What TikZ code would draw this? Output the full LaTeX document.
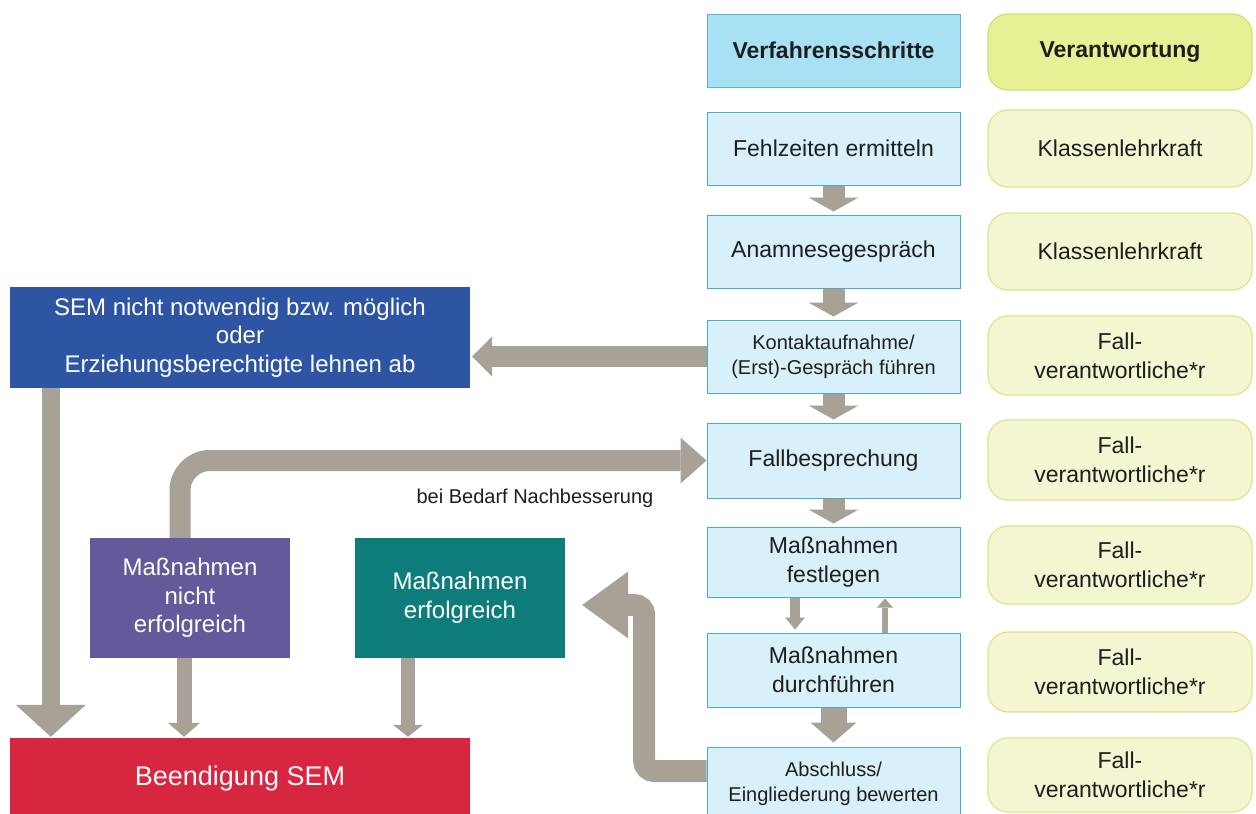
\documentclass[tikz,border=0pt]{standalone}
\usepackage{fontspec}
\setmainfont{Liberation Sans}
\usetikzlibrary{arrows.meta,calc}
\definecolor{arr}{RGB}{167,161,150}
\definecolor{hblue}{RGB}{168,224,244}
\definecolor{hblueb}{RGB}{92,180,214}
\definecolor{sblue}{RGB}{216,240,250}
\definecolor{sblueb}{RGB}{75,172,198}
\definecolor{hyel}{RGB}{232,240,150}
\definecolor{hyelb}{RGB}{212,222,110}
\definecolor{syel}{RGB}{243,246,208}
\definecolor{syelb}{RGB}{220,228,140}
\definecolor{semblue}{RGB}{46,84,164}
\definecolor{purp}{RGB}{100,89,155}
\definecolor{tealc}{RGB}{14,124,123}
\definecolor{redc}{RGB}{214,38,64}
\definecolor{txt}{RGB}{30,30,30}
\newcommand\fmain{\fontsize{23}{29}\selectfont}
\newcommand\fsmall{\fontsize{20}{25}\selectfont}
\newcommand\fleft{\fontsize{24}{28.5}\selectfont}
\newcommand\fend{\fontsize{27}{32}\selectfont}
\newcommand\flabel{\fontsize{20}{24}\selectfont}
\tikzset{
  colbox/.style={draw=sblueb, fill=sblue, line width=1pt, minimum width=253pt, inner sep=0pt, align=center, text=txt, font=\fmain},
  colhead/.style={colbox, draw=hblueb, fill=hblue, font=\fmain\bfseries},
  respbox/.style={draw=syelb, fill=syel, line width=1.2pt, rounded corners=20pt, minimum width=264pt, inner sep=0pt, align=center, text=txt, font=\fmain},
  resphead/.style={respbox, draw=hyelb, fill=hyel, font=\fmain\bfseries},
  leftbox/.style={inner sep=0pt, align=center, text=white, font=\fleft},
  flow/.style={draw=arr, line width=22pt, -{Triangle[width=50pt,length=14pt,line width=0pt]}, shorten >=3pt},
}
\begin{document}
\begin{tikzpicture}[x=1pt,y=-1pt]
\useasboundingbox (0,0) rectangle (1256,814);
\fill[white] (0,0) rectangle (1256,814);
% process column
\node[colhead, minimum height=73pt] (head) at (833.5,50.5) {Verfahrensschritte};
\node[colbox, minimum height=73pt] (fehl) at (833.5,148.5) {Fehlzeiten ermitteln};
\node[colbox, minimum height=73pt] (anam) at (833.5,251.5) {Anamnesegespräch};
\node[colbox, minimum height=73pt, font=\fsmall] (kont) at (833.5,356.5) {Kontaktaufnahme/\\(Erst)-Gespräch führen};
\node[colbox, minimum height=75pt] (fall) at (833.5,460.5) {Fallbesprechung};
\node[colbox, minimum height=70pt] (fest) at (833.5,562) {Maßnahmen\\festlegen};
\node[colbox, minimum height=74pt] (durch) at (833.5,670) {Maßnahmen\\durchführen};
\node[colbox, minimum height=73pt, font=\fsmall] (absch) at (833.5,783.5) {Abschluss/\\Eingliederung bewerten};
% responsibility column
\node[resphead, minimum height=76pt] (rh) at (1120,52) {Verantwortung};
\node[respbox, minimum height=77pt] (r1) at (1120,148.5) {Klassenlehrkraft};
\node[respbox, minimum height=77pt] (r2) at (1120,251.5) {Klassenlehrkraft};
\node[respbox, minimum height=79pt] (r3) at (1120,355.5) {Fall-\\verantwortliche*r};
\node[respbox, minimum height=80pt] (r4) at (1120,460) {Fall-\\verantwortliche*r};
\node[respbox, minimum height=78pt] (r5) at (1120,565) {Fall-\\verantwortliche*r};
\node[respbox, minimum height=80pt] (r6) at (1120,672) {Fall-\\verantwortliche*r};
\node[respbox, minimum height=74pt] (r7) at (1120,775) {Fall-\\verantwortliche*r};
% left boxes
\node[leftbox, fill=semblue, minimum width=460pt, minimum height=101pt] (sem) at (240,337.5) {SEM nicht notwendig bzw. möglich\\oder\\Erziehungsberechtigte lehnen ab};
\node[leftbox, fill=redc, minimum width=460pt, minimum height=82pt, font=\fend] (end) at (240,779) {Beendigung SEM};
\node[leftbox, fill=purp, minimum width=200pt, minimum height=120pt] (nonerf) at (190,598) {Maßnahmen\\nicht\\erfolgreich};
\node[leftbox, fill=tealc, minimum width=210pt, minimum height=120pt] (erf) at (460,598) {Maßnahmen\\erfolgreich};
\node[font=\flabel, text=txt, inner sep=0pt] (lbl) at (535,498) {bei Bedarf Nachbesserung};
% column arrows
\draw[flow] (fehl) -- (anam);
\draw[flow] (anam) -- (kont);
\draw[flow] (kont) -- (fall);
\draw[flow] (fall) -- (fest);
\draw[draw=arr, line width=10pt, -{Triangle[width=20pt,length=12pt,line width=0pt]}, shorten >=3pt]
  ([xshift=-38.5pt]fest.south) -- ([xshift=-38.5pt]durch.north);
\draw[draw=arr, line width=6pt, -{Triangle[width=16pt,length=9pt,line width=0pt]}, shorten >=1pt]
  ([xshift=51.5pt]durch.north) -- ([xshift=51.5pt]fest.south);
\draw[draw=arr, line width=26pt, -{Triangle[width=46pt,length=20pt,line width=0pt]}, shorten >=4pt]
  (durch) -- (absch);
% to SEM box
\draw[draw=arr, line width=21pt, -{Triangle[width=40pt,length=20pt,line width=0pt]}, shorten >=2pt]
  (kont.west) -- (kont.west -| sem.east);
\draw[draw=arr, line width=18pt, -{Triangle[width=70pt,length=32pt,line width=0pt]}, shorten >=1pt]
  ([xshift=41pt]sem.south west) -- ([xshift=41pt]end.north west);
% not successful -> Fallbesprechung
\draw[draw=arr, line width=21pt, rounded corners=30pt, -{Triangle[width=46pt,length=26pt,line width=0pt]}]
  ([xshift=-10pt]nonerf.north) |- (fall.west);
\coordinate (p1) at ([xshift=-6pt]nonerf.south);
\draw[draw=arr, line width=15pt, -{Triangle[width=32pt,length=14pt,line width=0pt]}, shorten >=1pt]
  (p1) -- (p1 |- end.north);
\coordinate (p2) at ([xshift=-52pt]erf.south);
\draw[draw=arr, line width=14pt, -{Triangle[width=30pt,length=12pt,line width=0pt]}, shorten >=1pt]
  (p2) -- (p2 |- end.north);
% Abschluss -> erfolgreich
\coordinate (erfin) at ([yshift=-7pt]erf.east);
\draw[draw=arr, line width=22pt, rounded corners=10pt, -{Triangle[width=67pt,length=46pt,line width=0pt]}, shorten >=17pt]
  ([yshift=12.5pt]absch.west) -| ($(erfin)+(79,0)$) -- (erfin);
\end{tikzpicture}
\end{document}
